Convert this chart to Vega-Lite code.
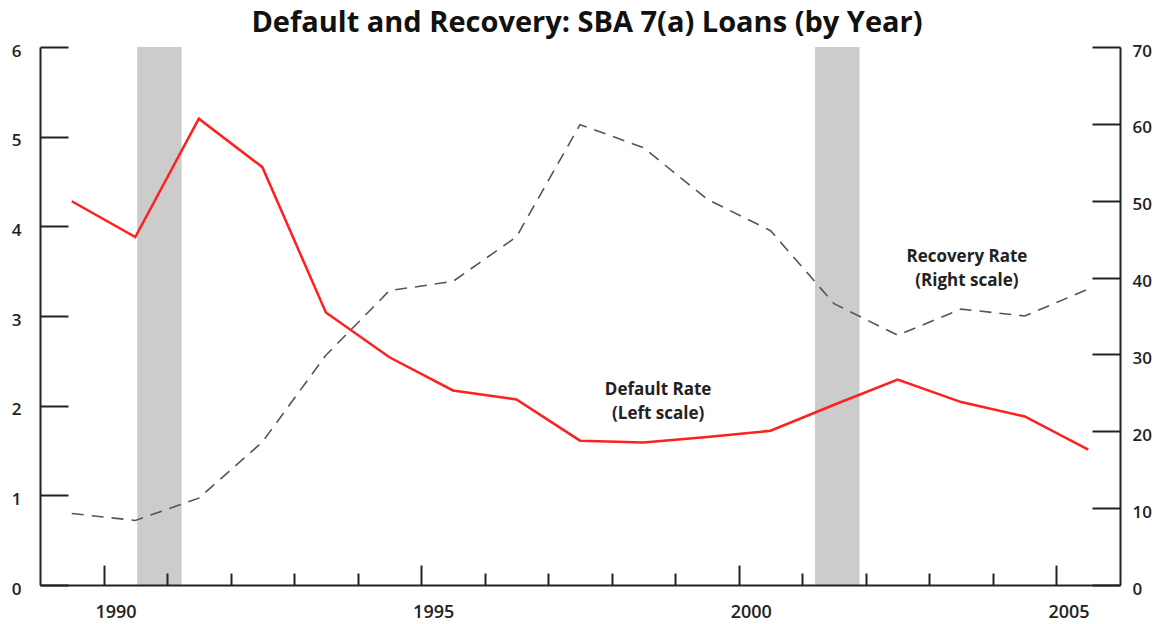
{
  "$schema": "https://vega.github.io/schema/vega-lite/v6.json",
  "width": 1080,
  "height": 538,
  "autosize": "none",
  "padding": {"left": 40, "top": 47, "right": 41, "bottom": 39},
  "background": "white",
  "config": {"view": {"stroke": null}},
  "title": {
    "text": "Default and Recovery: SBA 7(a) Loans (by Year)",
    "font": "Open Sans",
    "fontSize": 29,
    "fontWeight": "bold",
    "color": "#111111",
    "anchor": "middle",
    "baseline": "alphabetic",
    "offset": 14,
    "dx": 7,
    "dy": 33
  },
  "datasets": {
    "series": [
      {"year": 1989.5, "default": 4.28, "recovery": 9.3},
      {"year": 1990.5, "default": 3.88, "recovery": 8.4},
      {"year": 1991.5, "default": 5.20, "recovery": 11.3},
      {"year": 1992.5, "default": 4.66, "recovery": 18.6},
      {"year": 1993.5, "default": 3.04, "recovery": 29.9},
      {"year": 1994.5, "default": 2.54, "recovery": 38.3},
      {"year": 1995.5, "default": 2.17, "recovery": 39.5},
      {"year": 1996.5, "default": 2.07, "recovery": 45.3},
      {"year": 1997.5, "default": 1.61, "recovery": 59.9},
      {"year": 1998.5, "default": 1.59, "recovery": 56.9},
      {"year": 1999.5, "default": 1.65, "recovery": 50.2},
      {"year": 2000.5, "default": 1.72, "recovery": 46.1},
      {"year": 2001.5, "default": 2.01, "recovery": 36.6},
      {"year": 2002.5, "default": 2.29, "recovery": 32.5},
      {"year": 2003.5, "default": 2.04, "recovery": 35.9},
      {"year": 2004.5, "default": 1.88, "recovery": 35.0},
      {"year": 2005.5, "default": 1.51, "recovery": 38.5}
    ],
    "recessions": [
      {"start": 1990.53, "end": 1991.23},
      {"start": 2001.2, "end": 2001.9}
    ],
    "defaultLabel": [
      {"year": 1998.73, "value": 2.17, "label": "Default Rate\n(Left scale)"}
    ],
    "recoveryLabel": [
      {"year": 2003.59, "value": 42.7, "label": "Recovery Rate\n(Right scale)"}
    ]
  },
  "layer": [
    {
      "data": {"name": "recessions"},
      "mark": {"type": "rect", "color": "#cccccc"},
      "encoding": {
        "x": {
          "field": "start",
          "type": "quantitative",
          "scale": {"domain": [1989, 2006], "nice": false, "zero": false},
          "axis": {
            "orient": "bottom",
            "title": null,
            "grid": false,
            "values": [1990, 1991, 1992, 1993, 1994, 1995, 1996, 1997, 1998, 1999, 2000, 2001, 2002, 2003, 2004, 2005],
            "format": "d",
            "labelExpr": "datum.value % 5 === 0 ? datum.label : ''",
            "tickSize": {"condition": {"test": "datum.value % 5 === 0", "value": -20}, "value": -12},
            "tickWidth": 2,
            "tickColor": "#222222",
            "domainColor": "#222222",
            "domainWidth": 2,
            "labelFont": "Open Sans",
            "labelFontSize": 18,
            "labelFontWeight": 600,
            "labelColor": "#222222",
            "labelPadding": 38,
            "labelOffset": 12,
            "labelOverlap": false,
            "labelFlush": false,
            "labelBound": false,
            "zindex": 1
          }
        },
        "x2": {"field": "end"}
      }
    },
    {
      "layer": [
        {
          "data": {"name": "series"},
          "mark": {"type": "line", "color": "#ff2020", "strokeWidth": 2.5},
          "encoding": {
            "x": {
              "field": "year",
              "type": "quantitative",
              "axis": {
                "orient": "top",
                "title": null,
                "grid": false,
                "ticks": false,
                "labels": false,
                "domain": true,
                "domainColor": "#222222",
                "domainWidth": 2,
                "zindex": 1
              }
            },
            "y": {
              "field": "default",
              "type": "quantitative",
              "scale": {"domain": [0, 6], "nice": false},
              "axis": {
                "orient": "left",
                "title": null,
                "grid": false,
                "values": [0, 1, 2, 3, 4, 5, 6],
                "format": "d",
                "tickSize": -28,
                "tickWidth": 2,
                "tickColor": "#222222",
                "domainColor": "#222222",
                "domainWidth": 2,
                "labelFont": "Open Sans",
                "labelFontSize": 17,
                "labelFontWeight": 600,
                "labelColor": "#222222",
                "labelPadding": 47,
                "labelOffset": 4,
                "labelFlush": false,
                "labelBound": false,
                "labelOverlap": false,
                "zindex": 1
              }
            }
          }
        },
        {
          "data": {"name": "defaultLabel"},
          "mark": {
            "type": "text",
            "font": "Open Sans",
            "fontSize": 17,
            "fontWeight": "bold",
            "color": "#222222",
            "align": "center",
            "baseline": "middle",
            "lineBreak": "\n",
            "lineHeight": 24
          },
          "encoding": {
            "x": {"field": "year", "type": "quantitative", "axis": null},
            "y": {"field": "value", "type": "quantitative"},
            "text": {"field": "label"}
          }
        }
      ]
    },
    {
      "layer": [
        {
          "data": {"name": "series"},
          "mark": {"type": "line", "color": "#555555", "strokeWidth": 1.6, "strokeDash": [12, 8]},
          "encoding": {
            "x": {"field": "year", "type": "quantitative", "axis": null},
            "y": {
              "field": "recovery",
              "type": "quantitative",
              "scale": {"domain": [0, 70], "nice": false},
              "axis": {
                "orient": "right",
                "title": null,
                "grid": false,
                "values": [0, 10, 20, 30, 40, 50, 60, 70],
                "format": "d",
                "tickSize": -28,
                "tickWidth": 2,
                "tickColor": "#222222",
                "domainColor": "#222222",
                "domainWidth": 2,
                "labelFont": "Open Sans",
                "labelFontSize": 17,
                "labelFontWeight": 600,
                "labelColor": "#222222",
                "labelPadding": 40,
                "labelOffset": 4,
                "labelFlush": false,
                "labelBound": false,
                "labelOverlap": false,
                "zindex": 1
              }
            }
          }
        },
        {
          "data": {"name": "recoveryLabel"},
          "mark": {
            "type": "text",
            "font": "Open Sans",
            "fontSize": 17,
            "fontWeight": "bold",
            "color": "#222222",
            "align": "center",
            "baseline": "middle",
            "lineBreak": "\n",
            "lineHeight": 24
          },
          "encoding": {
            "x": {"field": "year", "type": "quantitative", "axis": null},
            "y": {"field": "value", "type": "quantitative"},
            "text": {"field": "label"}
          }
        }
      ]
    }
  ],
  "resolve": {"scale": {"y": "independent"}, "axis": {"x": "independent"}}
}
